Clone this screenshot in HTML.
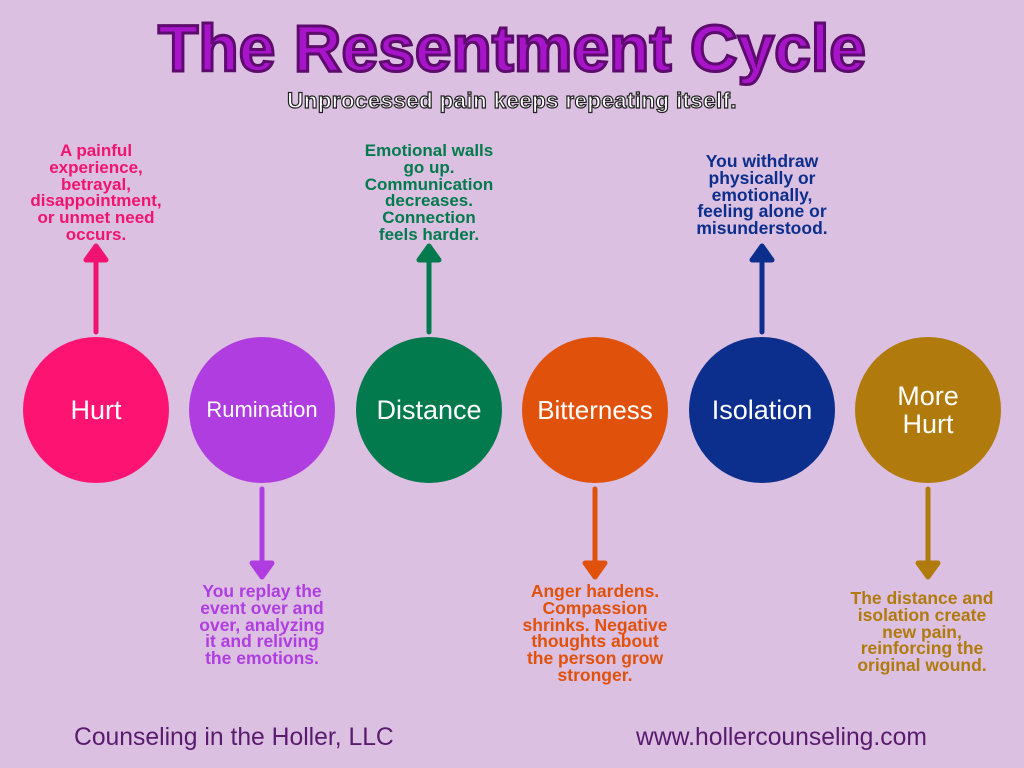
<!DOCTYPE html>
<html><head><meta charset="utf-8"><style>
body{margin:0;width:1024px;height:768px;background:#dbc0e1;position:relative;overflow:hidden;font-family:"Liberation Sans",sans-serif}
.t{position:absolute;left:0;width:1024px;text-align:center}
.c{position:absolute;width:146px;height:146px;border-radius:50%;color:#fff;display:flex;align-items:center;justify-content:center;text-align:center;font-size:27px;line-height:28px}
.d{position:absolute;width:190px;text-align:center;font-weight:bold;font-size:17px;line-height:16.8px}
.f{position:absolute;top:724px;font-size:24.7px;color:#5a1a6e}
</style></head><body>
<div class="t" style="top:10px;font-size:66px;font-weight:900;color:#a714c9;-webkit-text-stroke:3px #5e0b6e;letter-spacing:0px">The Resentment Cycle</div>
<div class="t" style="top:88px;font-size:22.5px;font-weight:bold;color:#fff;-webkit-text-stroke:1.2px #222;letter-spacing:0.3px">Unprocessed pain keeps repeating itself.</div>

<svg width="1024" height="768" style="position:absolute;left:0;top:0">
<g stroke-width="5" stroke-linecap="round">
<line x1="96" y1="332" x2="96" y2="256" stroke="#f01470"/><polygon points="86,260 106,260 96,246" fill="#f01470" stroke="#f01470" stroke-linejoin="round"/>
<line x1="429" y1="332" x2="429" y2="256" stroke="#037a4d"/><polygon points="419,260 439,260 429,246" fill="#037a4d" stroke="#037a4d" stroke-linejoin="round"/>
<line x1="762" y1="332" x2="762" y2="256" stroke="#0c2e8c"/><polygon points="752,260 772,260 762,246" fill="#0c2e8c" stroke="#0c2e8c" stroke-linejoin="round"/>
<line x1="262" y1="489" x2="262" y2="565" stroke="#b03ddf"/><polygon points="252,563 272,563 262,577" fill="#b03ddf" stroke="#b03ddf" stroke-linejoin="round"/>
<line x1="595" y1="489" x2="595" y2="565" stroke="#e0510b"/><polygon points="585,563 605,563 595,577" fill="#e0510b" stroke="#e0510b" stroke-linejoin="round"/>
<line x1="928" y1="489" x2="928" y2="565" stroke="#b07a0c"/><polygon points="918,563 938,563 928,577" fill="#b07a0c" stroke="#b07a0c" stroke-linejoin="round"/>
</g></svg>

<div class="c" style="left:23px;top:337px;background:#fd1472">Hurt</div>
<div class="c" style="left:189px;top:337px;background:#b03ddf;font-size:22px">Rumination</div>
<div class="c" style="left:356px;top:337px;background:#037a4d">Distance</div>
<div class="c" style="left:522px;top:337px;background:#e0510b;font-size:26px">Bitterness</div>
<div class="c" style="left:689px;top:337px;background:#0c2e8c">Isolation</div>
<div class="c" style="left:855px;top:337px;background:#b07a0c">More<br>Hurt</div>

<div class="d" style="left:1px;top:143px;color:#f01470">A painful<br>experience,<br>betrayal,<br>disappointment,<br>or unmet need<br>occurs.</div>
<div class="d" style="left:334px;top:143px;color:#037a4d">Emotional walls<br>go up.<br>Communication<br>decreases.<br>Connection<br>feels harder.</div>
<div class="d" style="left:667px;top:153px;color:#0c2e8c;font-size:17.5px">You withdraw<br>physically or<br>emotionally,<br>feeling alone or<br>misunderstood.</div>
<div class="d" style="left:167px;top:583px;color:#b03ddf;font-size:17.5px">You replay the<br>event over and<br>over, analyzing<br>it and reliving<br>the emotions.</div>
<div class="d" style="left:500px;top:583px;color:#e0510b;font-size:17.5px">Anger hardens.<br>Compassion<br>shrinks. Negative<br>thoughts about<br>the person grow<br>stronger.</div>
<div class="d" style="left:827px;top:590px;color:#b07a0c;font-size:17.5px">The distance and<br>isolation create<br>new pain,<br>reinforcing the<br>original wound.</div>

<div class="f" style="left:74px">Counseling in the Holler, LLC</div>
<div class="f" style="left:636px">www.hollercounseling.com</div>
</body></html>
